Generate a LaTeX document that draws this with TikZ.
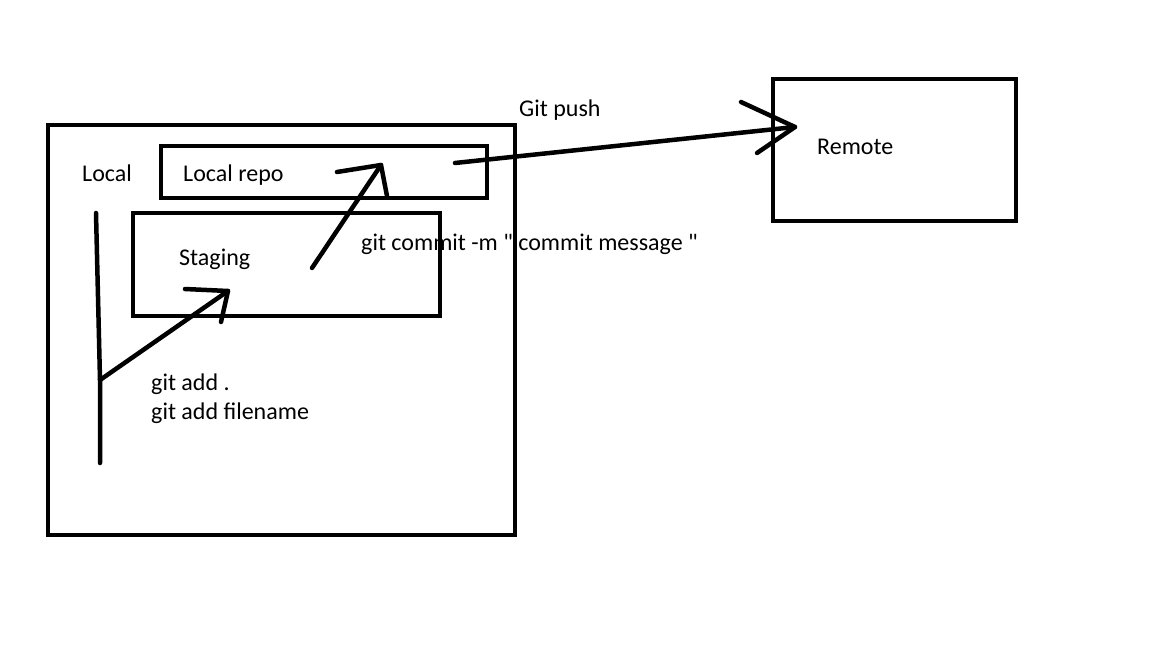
\documentclass[tikz,border=0pt]{standalone}
\usepackage{fontspec}
\setmainfont{Carlito}
\begin{document}
\begin{tikzpicture}[x=1pt,y=-1pt,
  box/.style={draw=black,line width=4pt},
  stroke/.style={draw=black,line width=4.5pt,line cap=round,line join=round},
  lbl/.style={font=\fontsize{24}{29}\selectfont,inner sep=0pt},
  lbll/.style={lbl,anchor=west}]
\useasboundingbox[fill=white] (0,0) rectangle (1152,647);
% boxes
\draw[box] (48,125) rectangle (515,535);
\draw[box] (161,146) rectangle (487,198);
\draw[box] (133,213) rectangle (440,316);
\draw[box] (773,79) rectangle (1016,221);
% texts
\node[lbll] (local) at (82,173) {Local};
\node[lbll] (repo) at (183,175) {Local repo};
\node[lbll] (staging) at (179,259) {Staging};
\node[lbll] (commit) at (361,244) {git commit -m \textquotedbl{} commit message \textquotedbl};
\node[lbll] (add1) at (151,384) {git add .};
\node[lbll] (add2) at (151,413) {git add filename};
\node[lbll] (push) at (519,110) {Git push};
\node[lbll] (remote) at (817,147) {Remote};
% vertical line
\coordinate (vt) at (96,213);
\coordinate (vm) at (100,380);
\coordinate (vb) at (100,463);
\draw[stroke] (vt) -- (vm) -- (vb);
% add arrow
\coordinate (a1) at (228,291);
\coordinate (a1l) at (185,289);
\coordinate (a1r) at (221,322);
\draw[stroke] (vm) -- (a1);
\draw[stroke] (a1l) -- (a1) -- (a1r);
% commit arrow
\coordinate (c0) at (312,268);
\coordinate (c1) at (381,165);
\coordinate (c1l) at (337,172);
\coordinate (c1r) at (387,196);
\draw[stroke] (c0) -- (c1);
\draw[stroke] (c1l) -- (c1) -- (c1r);
% push arrow
\coordinate (p0) at (455,163);
\coordinate (p1) at (795,127);
\coordinate (p1l) at (741,102);
\coordinate (p1r) at (757,153);
\draw[stroke] (p0) -- (p1);
\draw[stroke] (p1l) -- (p1) -- (p1r);
\end{tikzpicture}
\end{document}
